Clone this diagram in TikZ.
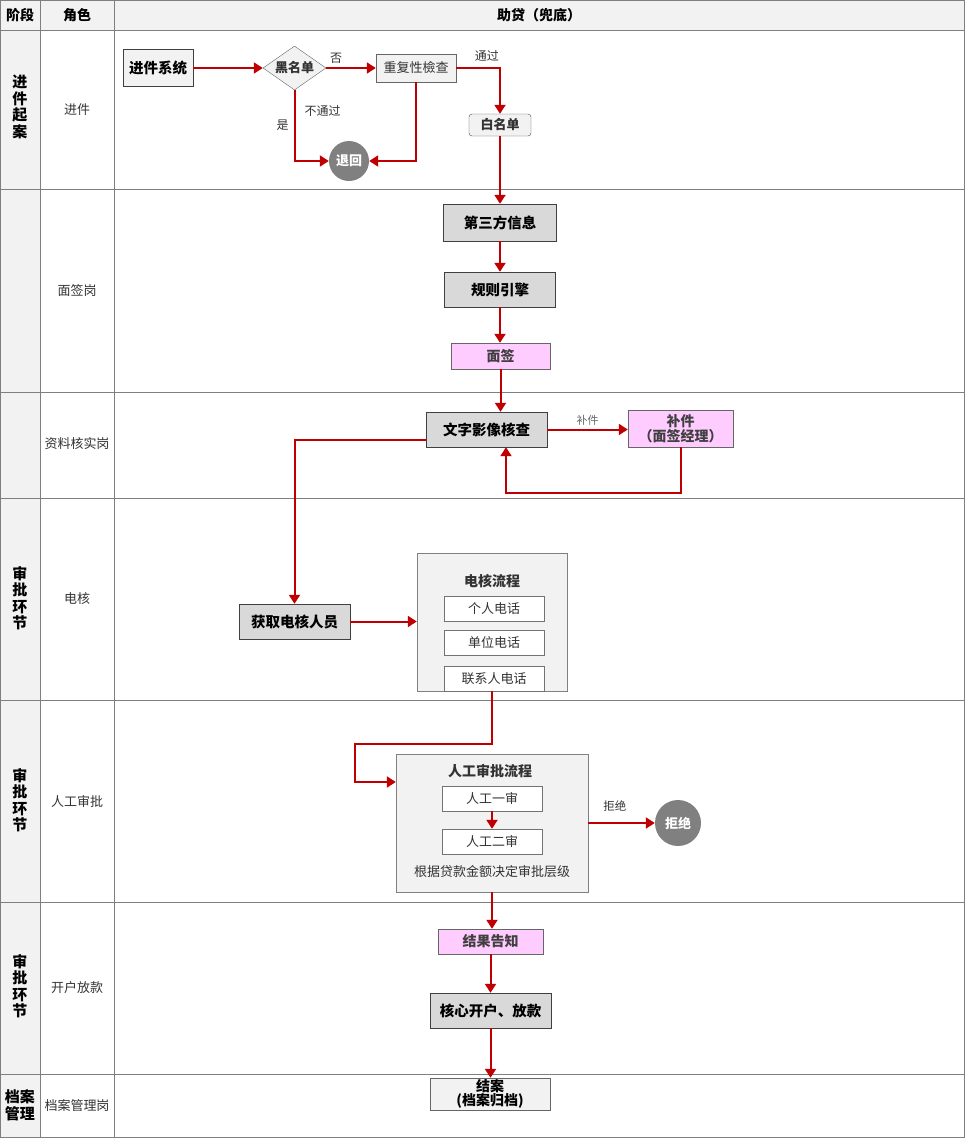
\documentclass[tikz,border=0pt]{standalone}
\usepackage{fontspec}
\setmainfont{Noto Sans CJK SC}
\usetikzlibrary{arrows.meta,shapes.geometric}
\definecolor{lineRed}{HTML}{C00000}
\definecolor{paleGray}{HTML}{F2F2F2}
\definecolor{midGray}{HTML}{D9D9D9}
\definecolor{pinkFill}{HTML}{FFCCFF}
\definecolor{gridGray}{HTML}{7F7F7F}
\definecolor{textGray}{HTML}{333333}

\begin{document}
\begin{tikzpicture}[x=1pt,y=-1pt,
  grid/.style={draw=gridGray,line width=0.8pt},
  headlbl/.style={font=\bfseries\fontsize{14}{16}\selectfont,inner sep=0pt},
  stagelbl/.style={font=\bfseries\fontsize{15}{16.5}\selectfont,align=center,inner sep=0pt},
  rolelbl/.style={font=\fontsize{13}{15}\selectfont,text=textGray,inner sep=0pt},
  keybox/.style={draw=black!75,fill=midGray,inner sep=0pt,font=\bfseries\fontsize{14.5}{16}\selectfont},
  lightbox/.style={draw=black!60,fill=paleGray,inner sep=0pt,font=\fontsize{13}{15}\selectfont,text=textGray},
  pinkbox/.style={draw=black!60,fill=pinkFill,inner sep=0pt,align=center,font=\bfseries\fontsize{14}{14.5}\selectfont,text=black!75},
  groupbox/.style={draw=black!50,fill=paleGray,inner sep=0pt},
  grouptitle/.style={font=\bfseries\fontsize{14}{16}\selectfont,text=textGray,inner sep=0pt},
  subbox/.style={draw=black!55,fill=white,minimum width=100,minimum height=25,inner sep=0pt,font=\fontsize{13}{15}\selectfont,text=textGray},
  endcirc/.style={circle,fill=black!50,text=white,inner sep=0pt,font=\bfseries\fontsize{13}{15}\selectfont},
  lbl/.style={font=\fontsize{12}{14}\selectfont,text=textGray,inner sep=1pt},
  flow/.style={draw=lineRed,line width=2pt,-{Triangle[length=9pt,width=11pt]}}]
\useasboundingbox (0,0) rectangle (965,1138);
\fill[paleGray] (0,0) rectangle (965,30);
\fill[paleGray] (0,30) rectangle (40,1138);
\foreach \y in {30,189,392,498,700,902,1074}
  \draw[grid] (0,\y) -- (965,\y);
\draw[grid] (40,0) -- (40,1138);
\draw[grid] (114,0) -- (114,1138);
\draw[grid] (0.5,0.5) rectangle (964.5,1137.5);

\node[headlbl] (hStage) at (20,15) {阶段};
\node[headlbl] (hRole) at (77,15) {角色};
\node[headlbl] (hFlow) at (539,15) {助贷（兜底）};

\node[stagelbl] (sIntake) at (20,107) {进\\件\\起\\案};
\node[stagelbl] (sCheck) at (20,598) {审\\批\\环\\节};
\node[stagelbl] (sManual) at (20,800) {审\\批\\环\\节};
\node[stagelbl] (sLoan) at (20,986) {审\\批\\环\\节};
\node[stagelbl] (sFile) at (20,1105) {档案\\管理};

\node[rolelbl] (rIntake) at (77,110) {进件};
\node[rolelbl] (rSign) at (77,291) {面签岗};
\node[rolelbl] (rData) at (77,444) {资料核实岗};
\node[rolelbl] (rPhone) at (77,599) {电核};
\node[rolelbl] (rManual) at (77,801) {人工审批};
\node[rolelbl] (rLoan) at (77,988) {开户放款};
\node[rolelbl] (rFile) at (77,1106) {档案管理岗};

\node[lightbox,draw=black!75,text=black,font=\bfseries\fontsize{14.5}{16}\selectfont,minimum width=70,minimum height=37] (sys) at (158,68) {进件系统};
\node[lightbox,diamond,aspect=1.43,minimum width=63,minimum height=44,font=\bfseries\fontsize{13}{15}\selectfont] (black) at (294.5,68) {黑名单};
\node[lightbox,minimum width=80,minimum height=28] (dup) at (416,68) {重复性檢查};
\node[lightbox,draw=black!70,rounded corners=3pt,minimum width=62,minimum height=22,font=\bfseries\fontsize{13}{15}\selectfont] (white) at (500,125) {白名单};
\node[endcirc,minimum size=40] (back) at (349,161) {退回};

\node[keybox,minimum width=113,minimum height=37] (third) at (500,222.5) {第三方信息};
\node[keybox,minimum width=111,minimum height=35] (rule) at (500,289.5) {规则引擎};
\node[pinkbox,minimum width=99,minimum height=26] (sign) at (500.5,356) {面签};

\node[keybox,minimum width=121,minimum height=35] (ocr) at (486.5,429.5) {文字影像核查};
\node[pinkbox,minimum width=105,minimum height=37] (patch) at (680.5,428.5) {补件\\（面签经理）};

\node[keybox,minimum width=111,minimum height=35] (call) at (294.5,621.5) {获取电核人员};
\node[groupbox,minimum width=150,minimum height=138] (phone) at (492,622) {};
\node[grouptitle] (phoneT) at (492,581) {电核流程};
\node[subbox] (p1) at (494,608.5) {个人电话};
\node[subbox] (p2) at (494,642.5) {单位电话};
\node[subbox] (p3) at (494,678.5) {联系人电话};

\node[groupbox,minimum width=192,minimum height=138] (manual) at (492,823) {};
\node[grouptitle] (manualT) at (490,771) {人工审批流程};
\node[subbox] (m1) at (492,798.5) {人工一审};
\node[subbox] (m2) at (492,841.5) {人工二审};
\node[rolelbl] (mNote) at (492,872) {根据贷款金额决定审批层级};
\node[endcirc,minimum size=46] (reject) at (678,823) {拒绝};

\node[pinkbox,minimum width=105,minimum height=25] (notice) at (490.5,941.5) {结果告知};
\node[keybox,minimum width=121,minimum height=35] (open) at (490.5,1010.5) {核心开户、放款};
\node[lightbox,draw=black!60,text=black,align=center,font=\bfseries\fontsize{14}{14}\selectfont,minimum width=120,minimum height=32] (close) at (490,1094) {结案\\(档案归档)};

\coordinate (bendA) at (355,744);

\draw[flow] (sys.east) -- (black.west);
\draw[flow] (black.east) -- node[lbl,pos=0.2,above=3pt] {否} (dup.west);
\draw[flow] (black.south) |- node[lbl,pos=0.25,left=4pt] {是} node[lbl,pos=0.15,right=8pt] {不通过} (back.west);
\draw[flow] (dup.south) |- (back.east);
\draw[flow] (dup.east) -| node[lbl,pos=0.35,above=5pt] {通过} (white.north);
\draw[flow] (white.south) -- (third.north);
\draw[flow] (third.south) -- (rule.north);
\draw[flow] (rule.south) -- (rule.south |- sign.north);
\draw[flow] (sign.south) -- (sign.south |- ocr.north);
\draw[flow] (ocr.east) -- node[lbl,above=2pt,text=black!60,font=\fontsize{11}{12}\selectfont] {补件} (ocr.east -| patch.west);
\draw[flow] (patch.south) -- ++(0,46) -| ([xshift=19.5pt]ocr.south);
\draw[flow] ([yshift=-10.5pt]ocr.west) -| (call.north);
\draw[flow] (call.east) -- (call.east -| phone.west);
\draw[flow] (phone.south) |- (bendA) |- ([yshift=41pt]manual.west);
\draw[flow] (m1.south) -- (m2.north);
\draw[flow] (manual.east) -- node[lbl,pos=0.4,above=10pt,font=\fontsize{11.5}{13}\selectfont] {拒绝} (reject.west);
\draw[flow] (manual.south) -- (manual.south |- notice.north);
\draw[flow] (notice.south) -- (notice.south |- open.north);
\draw[flow] (open.south) -- (open.south |- close.north);
\end{tikzpicture}
\end{document}
